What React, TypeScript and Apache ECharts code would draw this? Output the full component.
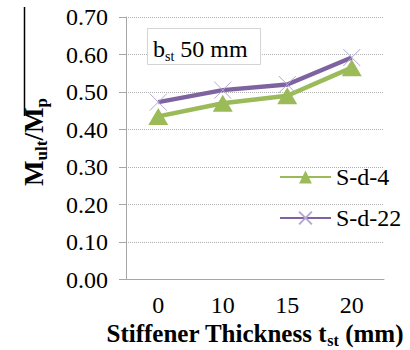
import React, { useEffect, useRef } from "react";
import * as echarts from "echarts";

const categories = ["0", "10", "15", "20"];
const sd4 = [0.435, 0.47, 0.49, 0.565];
const sd22 = [0.473, 0.505, 0.52, 0.592];
const seriesNames = ["S-d-4", "S-d-22"];

const FONT = "Liberation Serif";

type Piece = { t: string; size: number; bold?: boolean; sub?: boolean };

function measure(text: string, size: number, bold?: boolean) {
  const ctx = document.createElement("canvas").getContext("2d")!;
  ctx.font = `${bold ? "bold " : ""}${size}px "${FONT}", serif`;
  return ctx.measureText(text).width;
}

function hRun(pieces: Piece[], start: number, baseline: number, subDrop: number) {
  const out: any[] = [];
  let x = start;
  for (const p of pieces) {
    const base = p.sub ? baseline + subDrop : baseline;
    out.push({
      type: "text",
      x,
      y: base - 0.3375 * p.size,
      z: 20,
      style: {
        text: p.t,
        fontFamily: FONT,
        fontSize: p.size,
        fontWeight: p.bold ? "bold" : "normal",
        fill: "#000",
        align: "left",
        verticalAlign: "middle",
      },
    });
    x += measure(p.t, p.size, p.bold);
  }
  return out;
}

function runWidth(pieces: Piece[]) {
  return pieces.reduce((s, p) => s + measure(p.t, p.size, p.bold), 0);
}

function vRun(pieces: Piece[], startY: number, baselineX: number, subDrop: number) {
  const out: any[] = [];
  let y = startY;
  for (const p of pieces) {
    const base = p.sub ? baselineX + subDrop : baselineX;
    out.push({
      type: "text",
      x: base - 0.3375 * p.size,
      y,
      rotation: Math.PI / 2,
      z: 20,
      style: {
        text: p.t,
        fontFamily: FONT,
        fontSize: p.size,
        fontWeight: p.bold ? "bold" : "normal",
        fill: "#000",
        align: "left",
        verticalAlign: "middle",
      },
    });
    y -= measure(p.t, p.size, p.bold);
  }
  return out;
}

export default function App() {
  const ref = useRef<HTMLDivElement>(null);
  useEffect(() => {
    if (!ref.current) return;
    const chart = echarts.init(ref.current, null, { renderer: "svg" });

    const xTitle: Piece[] = [
      { t: "Stiffener Thickness t", size: 25, bold: true },
      { t: "st", size: 16, bold: true, sub: true },
      { t: " (mm)", size: 25, bold: true },
    ];
    const yTitle: Piece[] = [
      { t: "M", size: 27, bold: true },
      { t: "ult", size: 17, bold: true, sub: true },
      { t: "/M", size: 27, bold: true },
      { t: "p", size: 17, bold: true, sub: true },
    ];
    const boxText: Piece[] = [
      { t: "b", size: 24 },
      { t: "st", size: 14, sub: true },
      { t: " 50 mm", size: 24 },
    ];

    const xw = runWidth(xTitle);
    const yw = runWidth(yTitle);

    chart.setOption({
      animation: false,
      grid: { left: 126, right: 26, top: 17, bottom: 70.5 },
      xAxis: {
        type: "category",
        data: categories,
        boundaryGap: true,
        axisLine: { show: true, lineStyle: { color: "#a6a6a6", width: 1 } },
        axisTick: { show: false },
        axisLabel: { color: "#000", fontFamily: FONT, fontSize: 24, margin: 13 },
      },
      yAxis: {
        type: "value",
        min: 0,
        max: 0.7,
        interval: 0.1,
        axisLine: { show: true, lineStyle: { color: "#a6a6a6", width: 1 } },
        axisTick: { show: true, inside: false, length: 7, lineStyle: { color: "#a6a6a6" } },
        splitLine: { show: true, lineStyle: { color: "#b0b0b0", type: [1, 1], width: 1 } },
        axisLabel: {
          color: "#000",
          fontFamily: FONT,
          fontSize: 24,
          margin: 18,
          formatter: (v: number) => v.toFixed(2),
        },
      },
      legend: {
        orient: "vertical",
        left: 279,
        top: 165,
        padding: 0,
        itemWidth: 51,
        itemHeight: 16,
        itemGap: 17,
        textStyle: { fontFamily: FONT, fontSize: 24, color: "#000" },
        data: seriesNames,
      },
      graphic: [
        {
          type: "line",
          shape: { x1: 24.5, y1: 7, x2: 24.5, y2: 116 },
          style: { stroke: "#000", lineWidth: 1.5 },
        },
        {
          type: "rect",
          shape: { x: 147.5, y: 28.5, width: 113, height: 36 },
          style: { fill: "#fff", stroke: "#d4d4d4", lineWidth: 1 },
          z: 10,
        },
        ...hRun(boxText, 153, 57, 4),
        ...hRun(xTitle, 255 - xw / 2, 342, 4),
        ...vRun(yTitle, 142 + yw / 2, 43, 4),
      ],
      series: [
        {
          name: seriesNames[0],
          type: "line",
          data: sd4,
          symbol: "triangle",
          symbolSize: [20, 17],
          lineStyle: { color: "#9bbb59", width: 4.5 },
          itemStyle: { color: "#9bbb59" },
          z: 2,
        },
        {
          name: seriesNames[1],
          type: "line",
          data: sd22,
          symbol: "path://M0,0L10,10M10,0L0,10",
          symbolSize: 17,
          lineStyle: { color: "#7f63a1", width: 4.5 },
          itemStyle: { color: "#7f63a1", borderColor: "#b6a6d2", borderWidth: 1 },
          z: 3,
        },
      ],
    });
    return () => chart.dispose();
  }, []);
  return (
    <>
      <style>{"#root svg text, #root svg tspan { font-family: 'Liberation Serif', 'Times New Roman', serif !important; }"}</style>
      <div ref={ref} style={{ width: 410, height: 350, position: "absolute", left: 0, top: 0 }} />
    </>
  );
}
